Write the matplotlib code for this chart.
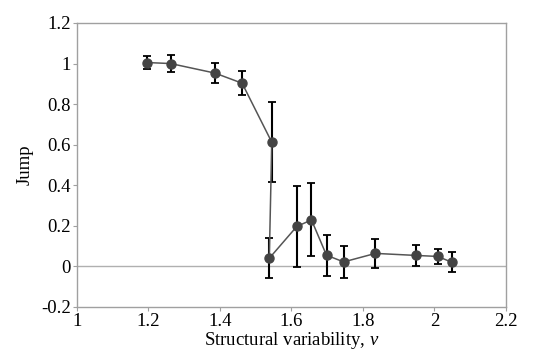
import matplotlib
matplotlib.use("Agg")
import matplotlib.pyplot as plt

x = [1.196, 1.262, 1.386, 1.462, 1.545, 1.538, 1.615, 1.656, 1.698, 1.746, 1.835, 1.948, 2.009, 2.049]
y = [1.005, 1.0, 0.953, 0.903, 0.612, 0.040, 0.197, 0.229, 0.055, 0.022, 0.064, 0.054, 0.049, 0.020]
err = [0.03, 0.04, 0.05, 0.058, 0.197, 0.099, 0.2, 0.18, 0.1, 0.08, 0.07, 0.05, 0.037, 0.05]

xticks = [1, 1.2, 1.4, 1.6, 1.8, 2, 2.2]
xticklabels = ["1", "1.2", "1.4", "1.6", "1.8", "2", "2.2"]
yticks = [-0.2, 0, 0.2, 0.4, 0.6, 0.8, 1, 1.2]
yticklabels = ["-0.2", "0", "0.2", "0.4", "0.6", "0.8", "1", "1.2"]

plt.rcParams['font.family'] = ['Liberation Serif', 'DejaVu Serif']
plt.rcParams['mathtext.fontset'] = 'custom'
plt.rcParams['mathtext.rm'] = 'Liberation Serif'
plt.rcParams['mathtext.it'] = 'Liberation Serif:italic'
fig = plt.figure(figsize=(5.38, 3.52), dpi=100)
ax = fig.add_axes([0.143, 0.128, 0.7975, 0.8067])

ax.axhline(0, color="#b0b0b0", lw=1, zorder=1)
ax.errorbar(x, y, yerr=err, fmt="none", ecolor="black", elinewidth=1.5, capsize=3.2, capthick=1.3, zorder=2)
ax.plot(x, y, color="#555555", lw=1.1, marker="o", markersize=6.5, markerfacecolor="#444444",
        markeredgecolor="#444444", zorder=3)

ax.set_xlim(1, 2.2)
ax.set_ylim(-0.2, 1.2)
ax.set_xticks(xticks)
ax.set_xticklabels(xticklabels)
ax.set_yticks(yticks)
ax.set_yticklabels(yticklabels)
for s in ax.spines.values():
    s.set_color("#a0a0a0")
    s.set_linewidth(1)
ax.tick_params(axis="both", labelsize=13.5, color="#a0a0a0", length=3, width=0.8, pad=1.5)
ax.set_xlabel("Structural variability, $\\mathit{v}$", fontsize=13.5, labelpad=0)
ax.set_ylabel("Jump", fontsize=13.5, labelpad=5)

fig.savefig("out.png", dpi=100)
